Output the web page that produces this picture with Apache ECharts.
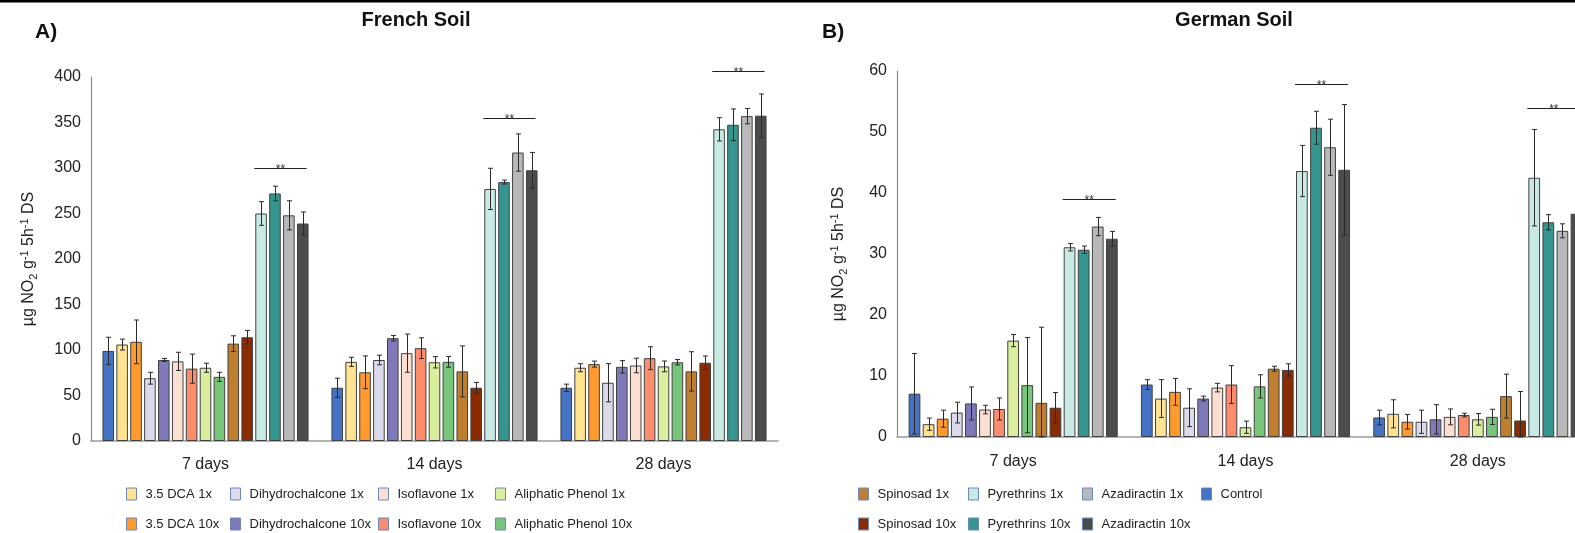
<!DOCTYPE html>
<html><head><meta charset="utf-8">
<script src="https://cdn.jsdelivr.net/npm/echarts@6/dist/echarts.min.js"></script>
<style>html,body{margin:0;padding:0;overflow:hidden;background:#fff;width:1575px;height:533px}
#chart{width:1620px;height:533px}</style></head>
<body><div id="chart"></div>
<script>
// ---------- DATA ----------
const categories = ['7 days', '14 days', '28 days'];
const treatments = ['Control', '3.5 DCA 1x', '3.5 DCA 10x', 'Dihydrochalcone 1x', 'Dihydrochalcone 10x',
  'Isoflavone 1x', 'Isoflavone 10x', 'Aliphatic Phenol 1x', 'Aliphatic Phenol 10x',
  'Spinosad 1x', 'Spinosad 10x', 'Pyrethrins 1x', 'Pyrethrins 10x', 'Azadiractin 1x', 'Azadiractin 10x'];

// French soil (means and error per time point, in treatment order)
const frenchMeans7  = [99, 106, 109, 69, 89, 87.5, 79.5, 80.5, 70.5, 107, 114, 250, 272, 248, 239];
const frenchErr7    = [15, 6, 24, 6.5, 1.7, 10, 16, 5, 5, 8.6, 7.5, 13, 8, 16, 12.7];
const frenchMeans14 = [58.5, 87, 75.5, 89, 113, 96.5, 102, 86.5, 87, 76.5, 58.5, 277, 284.5, 317, 297.5];
const frenchErr14   = [10.5, 5, 18, 5.3, 3, 21, 11.4, 6.2, 5.9, 28, 5.9, 22.7, 2.2, 20.5, 19.6];
const frenchMeans28 = [58.5, 80.5, 84.5, 64, 81.5, 83, 91, 82, 86.5, 76.5, 86, 342.5, 347.5, 357, 357.5];
const frenchErr28   = [4, 4.4, 3.3, 21, 6.8, 8, 12.6, 5.9, 3, 21.6, 7.4, 12.8, 17.4, 8.4, 23.8];
const frenchSig     = [300, 355, 407];

// German soil
const germanMeans7  = [7.1, 2.1, 3.0, 4.0, 5.5, 4.5, 4.6, 15.8, 8.5, 5.6, 4.8, 31.1, 30.7, 34.5, 32.5];
const germanErr7    = [6.6, 1.0, 1.4, 1.7, 2.7, 0.7, 1.8, 1.0, 7.8, 12.4, 2.5, 0.6, 0.6, 1.5, 1.2];
const germanMeans14 = [8.6, 6.3, 7.4, 4.8, 6.3, 8.1, 8.6, 1.6, 8.3, 11.2, 11.0, 43.6, 50.7, 47.5, 43.8];
const germanErr14   = [0.8, 3.1, 2.2, 3.1, 0.4, 0.7, 3.1, 1.0, 1.9, 0.4, 1.0, 4.2, 2.7, 4.6, 10.7];
const germanMeans28 = [3.2, 3.8, 2.5, 2.5, 2.9, 3.3, 3.6, 2.9, 3.3, 6.7, 2.7, 42.5, 35.2, 33.8, 36.6];
const germanErr28   = [1.2, 2.3, 1.2, 1.9, 2.4, 1.3, 0.3, 0.95, 1.25, 3.6, 4.75, 7.9, 1.25, 1.15, 3.2];
const germanSig     = [39, 57.8, 53.9];

// axis ticks
const frenchYMax = 400, frenchYStep = 50;
const germanYMax = 60, germanYStep = 10;

// legend columns
const legendCols = [
  ['3.5 DCA 1x', '3.5 DCA 10x'], ['Dihydrochalcone 1x', 'Dihydrochalcone 10x'],
  ['Isoflavone 1x', 'Isoflavone 10x'], ['Aliphatic Phenol 1x', 'Aliphatic Phenol 10x'],
  ['Spinosad 1x', 'Spinosad 10x'], ['Pyrethrins 1x', 'Pyrethrins 10x'],
  ['Azadiractin 1x', 'Azadiractin 10x'], ['Control']];

// ---------- STYLE ----------
const colors = ['#4472C4', '#FFE391', '#FF9A2E', '#DADAEB', '#8079B9', '#FDDFD2', '#FC8D6C',
  '#DAEE9E', '#78C67B', '#BF7F2F', '#8B2B02', '#C9EAE4', '#35968F', '#B8B8B8', '#4C4C4C'];
const FONT = "'Liberation Sans', Arial, sans-serif";
const N = treatments.length, CAT_GAP = 0.10, BAR_GAP = 0.20;

function barGeom(api, c, i) {
  const band = api.size([1, 0])[0];
  const usable = band * (1 - CAT_GAP);
  const bw = usable / (N + (N - 1) * BAR_GAP);
  const center = api.coord([c, 0])[0];
  const left = center - usable / 2 + i * bw * (1 + BAR_GAP);
  return { left, bw };
}

function errRender(params, api) {
  const c = api.value(0), i = api.value(1), m = api.value(2), e = api.value(3);
  const g = barGeom(api, c, i);
  const x = Math.round(g.left + g.bw / 2) + 0.5;
  const yt = api.coord([c, m + e])[1], yb = api.coord([c, Math.max(0, m - e)])[1];
  const cap = 2.5, st = { stroke: '#2b2b2b', lineWidth: 1 };
  return { type: 'group', children: [
    { type: 'line', shape: { x1: x, y1: yt, x2: x, y2: yb }, style: st },
    { type: 'line', shape: { x1: x - cap, y1: yt, x2: x + cap, y2: yt }, style: st },
    { type: 'line', shape: { x1: x - cap, y1: yb, x2: x + cap, y2: yb }, style: st }
  ] };
}

function sigRender(params, api) {
  const c = api.value(0), lvl = api.value(1);
  const a = barGeom(api, c, 11), b = barGeom(api, c, 14);
  const x1 = a.left - 1, x2 = b.left + b.bw - 2;
  const y = Math.round(api.coord([c, lvl])[1]) + 0.5;
  return { type: 'group', children: [
    { type: 'line', shape: { x1, y1: y, x2, y2: y }, style: { stroke: '#222', lineWidth: 1.2 } },
    { type: 'text', style: { text: '**', x: (x1 + x2) / 2, y: y + 7, align: 'center', verticalAlign: 'bottom',
      font: '12px ' + FONT, fill: '#333' } }
  ] };
}

function buildSeries(meansArr, errArr, sig, axisIdx) {
  const out = treatments.map((t, i) => ({
    type: 'bar', name: t, xAxisIndex: axisIdx, yAxisIndex: axisIdx,
    data: meansArr.map(arr => arr[i]),
    barGap: (BAR_GAP * 100) + '%', barCategoryGap: (CAT_GAP * 100) + '%',
    itemStyle: { color: colors[i], borderColor: '#404040', borderWidth: 1 },
    emphasis: { disabled: true }, silent: true
  }));
  const errData = [];
  meansArr.forEach((arr, c) => arr.forEach((m, i) => errData.push([c, i, m, errArr[c][i]])));
  out.push({ type: 'custom', xAxisIndex: axisIdx, yAxisIndex: axisIdx, renderItem: errRender,
    encode: { x: 0, y: 2 }, data: errData, clip: false, silent: true, z: 5 });
  out.push({ type: 'custom', xAxisIndex: axisIdx, yAxisIndex: axisIdx, renderItem: sigRender,
    encode: { x: 0, y: 1 }, data: sig.map((v, c) => [c, v]), clip: false, silent: true, z: 5 });
  return out;
}

const yName = '{t|µg NO}{sub|2}{t| g}{sup|-1}{t| 5h}{sup|-1}{t| DS}';
const yNameStyle = { rich: {
  t: { fontSize: 16, fontFamily: FONT, color: '#222', lineHeight: 20, verticalAlign: 'middle' },
  sub: { fontSize: 11, fontFamily: FONT, color: '#222', lineHeight: 11, verticalAlign: 'bottom' },
  sup: { fontSize: 11, fontFamily: FONT, color: '#222', lineHeight: 11, verticalAlign: 'top' }
} };

function xAxis(gridIndex, margin) {
  return { type: 'category', gridIndex, data: categories,
    axisTick: { show: false }, axisLine: { lineStyle: { color: '#9a9a9a', width: 1.5 } },
    axisLabel: { fontSize: 16, fontFamily: FONT, color: '#222', margin } };
}
function yAxis(gridIndex, max, step, gap) {
  return { type: 'value', gridIndex, min: 0, max, interval: step,
    axisLine: { show: true, lineStyle: { color: '#8a8a8a', width: 1.2 } }, axisTick: { show: false },
    splitLine: { show: false },
    axisLabel: { fontSize: 16, fontFamily: FONT, color: '#222', margin: 10 },
    name: yName, nameLocation: 'middle', nameGap: gap, nameRotate: 90, nameTextStyle: yNameStyle };
}

const legendLefts = [126, 230, 378, 495, 858, 968, 1082, 1201];
const legends = legendCols.map((col, k) => ({
  data: col, left: legendLefts[k], top: 486, orient: 'vertical', padding: 0, itemGap: 14,
  icon: 'rect', itemWidth: 10, itemHeight: 12, selectedMode: false,
  itemStyle: { borderColor: '#6d87bf', borderWidth: 1 },
  textStyle: { fontSize: 13, fontFamily: FONT, color: '#222', padding: [0, 0, 0, 4], lineHeight: 16 }
}));

const chart = echarts.init(document.getElementById('chart'), null, { renderer: 'canvas' });
chart.setOption({
  animation: false, backgroundColor: '#fff',
  grid: [
    { left: 91, top: 77, width: 687, height: 364 },
    { left: 897, top: 71, width: 697, height: 366 }
  ],
  xAxis: [xAxis(0, 16), xAxis(1, 17)],
  yAxis: [yAxis(0, frenchYMax, frenchYStep, 52), yAxis(1, germanYMax, germanYStep, 48)],
  legend: legends,
  series: [].concat(
    buildSeries([frenchMeans7, frenchMeans14, frenchMeans28], [frenchErr7, frenchErr14, frenchErr28], frenchSig, 0),
    buildSeries([germanMeans7, germanMeans14, germanMeans28], [germanErr7, germanErr14, germanErr28], germanSig, 1)
  ),
  graphic: [
    { type: 'rect', shape: { x: 0, y: 0, width: 1620, height: 2.5 }, style: { fill: '#000' } },
    { type: 'text', x: 416, y: 20, style: { text: 'French Soil', font: 'bold 20px ' + FONT, fill: '#111', align: 'center', verticalAlign: 'middle' } },
    { type: 'text', x: 1234, y: 20, style: { text: 'German Soil', font: 'bold 20px ' + FONT, fill: '#111', align: 'center', verticalAlign: 'middle' } },
    { type: 'text', x: 35, y: 32, style: { text: 'A)', font: 'bold 21px ' + FONT, fill: '#111', align: 'left', verticalAlign: 'middle' } },
    { type: 'text', x: 822, y: 32, style: { text: 'B)', font: 'bold 21px ' + FONT, fill: '#111', align: 'left', verticalAlign: 'middle' } }
  ]
});
</script></body></html>
